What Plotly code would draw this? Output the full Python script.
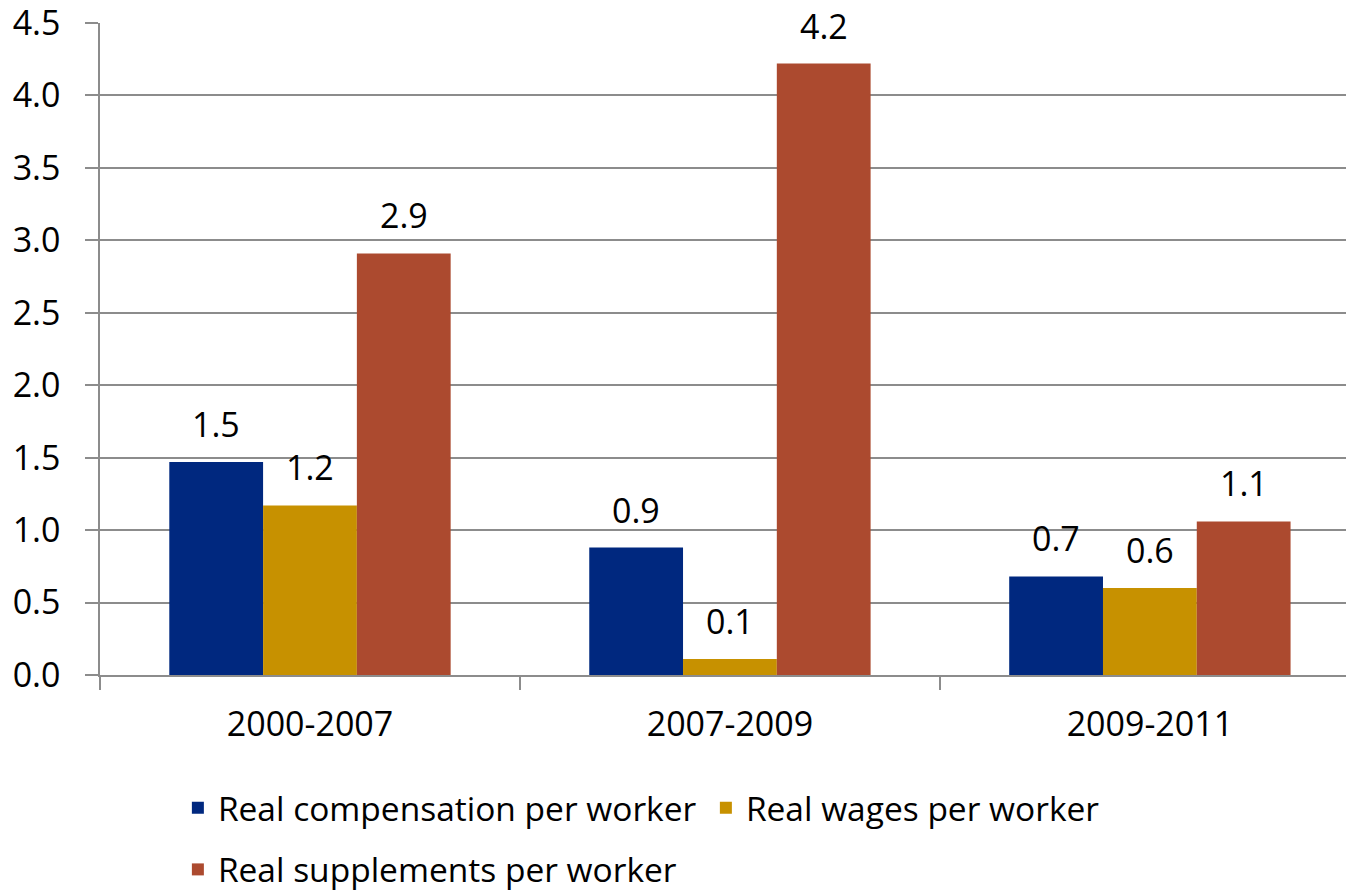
import plotly.graph_objects as go

categories = ["2000-2007", "2007-2009", "2009-2011"]
series_names = ["Real compensation per worker", "Real wages per worker", "Real supplements per worker"]
compensation = [1.47, 0.88, 0.68]
wages = [1.17, 0.11, 0.60]
supplements = [2.91, 4.22, 1.06]
colors = ["#00287F", "#C79100", "#AC4A2F"]
y_ticks = [0, 0.5, 1.0, 1.5, 2.0, 2.5, 3.0, 3.5, 4.0, 4.5]

FONT = "Open Sans"

W, H = 1346, 892
ML, MR, MT, MB = 100, 0, 23, 217
plot_w = W - ML - MR
x_range = [-0.5, 2.467]
px_per_cat = plot_w / (x_range[1] - x_range[0])
bargap = 0.33
bar_w_px = px_per_cat * (1 - bargap) / 3

fig = go.Figure()
all_vals = [compensation, wages, supplements]
legends = ["legend", "legend", "legend2"]
for i, (name, vals) in enumerate(zip(series_names, all_vals)):
    fig.add_trace(go.Bar(
        x=categories, y=vals, name=name,
        marker=dict(color=colors[i], line=dict(width=0)),
        legend=legends[i],
    ))
    for c, v in zip(categories, vals):
        fig.add_annotation(
            x=c, y=v, text=f"{v:.1f}", showarrow=False,
            xref="x", yref="y", yanchor="bottom",
            xshift=(i - 1) * bar_w_px, yshift=13,
            font=dict(family=FONT, size=34, color="#000000"),
        )

fig.update_layout(
    width=W, height=H,
    margin=dict(l=ML, r=MR, t=MT, b=MB, autoexpand=False),
    paper_bgcolor="white", plot_bgcolor="white",
    barmode="group", bargap=bargap, bargroupgap=0,
    font=dict(family=FONT, size=33, color="#000000"),
    showlegend=True,
    legend=dict(
        orientation="h", x=0.0625, xanchor="left", y=-0.204, yanchor="middle",
        font=dict(family=FONT, size=33.5, color="#000000"),
        bgcolor="rgba(0,0,0,0)", traceorder="normal",
        entrywidth=483, entrywidthmode="pixels",
    ),
    legend2=dict(
        orientation="h", x=0.0625, xanchor="left", y=-0.2985, yanchor="middle",
        font=dict(family=FONT, size=33.5, color="#000000"),
        bgcolor="rgba(0,0,0,0)",
    ),
)

fig.update_xaxes(
    type="category", range=x_range,
    showline=True, linecolor="#8C8C8C", linewidth=1.5,
    ticks="outside", tickson="boundaries", ticklen=13, tickcolor="#8C8C8C", tickwidth=1.5,
    showgrid=False, ticklabelstandoff=18,
    tickfont=dict(family=FONT, size=34, color="#000000"),
)
fig.update_yaxes(
    range=[0, 4.5001], tickvals=y_ticks, ticktext=[f"{t:.1f}" for t in y_ticks],
    showline=True, linecolor="#8C8C8C", linewidth=1.5,
    ticks="outside", ticklen=13, tickcolor="#8C8C8C", tickwidth=1.5,
    showgrid=True, gridcolor="#8C8C8C", gridwidth=1.5,
    zeroline=False, ticklabelstandoff=18, ticklabeloverflow="allow",
    tickfont=dict(family=FONT, size=34, color="#000000"),
)

fig.write_html("out.html", config={"displayModeBar": False},
               post_script="document.body.style.margin='0';")
